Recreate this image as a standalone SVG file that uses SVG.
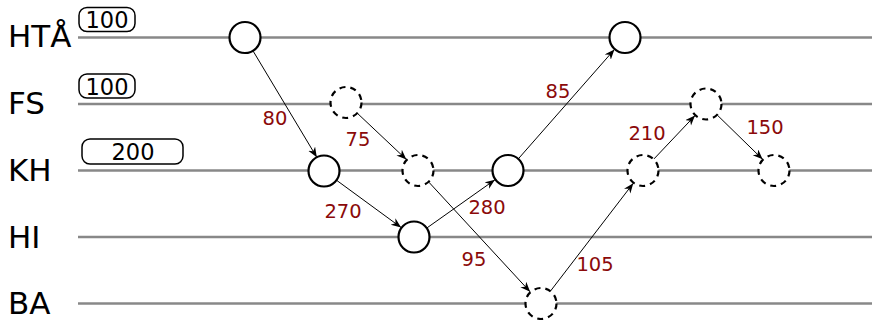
<svg xmlns="http://www.w3.org/2000/svg" width="872" height="320" viewBox="0 0 872 320">
<defs>
<marker id="arr" markerUnits="userSpaceOnUse" markerWidth="11" markerHeight="9" refX="10" refY="4" orient="auto">
<path d="M0,0 L10,4 L0,8 L3,4 z" fill="#000"/>
</marker>
<style>
.lane{stroke:#888;stroke-width:2.5;fill:none}
.rowlbl{font-family:"DejaVu Sans",sans-serif;font-size:31px;fill:#000}
.cap rect{fill:#fff;stroke:#000;stroke-width:1.5}
.cap text{font-family:"DejaVu Sans",sans-serif;font-size:22.5px;fill:#000;text-anchor:middle}
.solid{fill:#fff;stroke:#000;stroke-width:2.2}
.dash{fill:#fff;stroke:#000;stroke-width:2.2;stroke-dasharray:6,5}
.edge{stroke:#000;stroke-width:1;fill:none;marker-end:url(#arr)}
.elbl{font-family:"DejaVu Sans",sans-serif;font-size:19.5px;fill:#8b0a0a;text-anchor:middle}
</style>
</defs>
<g id="lanes">
<line class="lane" x1="78" y1="37.5" x2="872" y2="37.5"/>
<line class="lane" x1="78" y1="104" x2="872" y2="104"/>
<line class="lane" x1="78" y1="170.5" x2="872" y2="170.5"/>
<line class="lane" x1="78" y1="237" x2="872" y2="237"/>
<line class="lane" x1="78" y1="303.5" x2="872" y2="303.5"/>
<text class="rowlbl" x="8" y="47">HTÅ</text>
<text class="rowlbl" x="8" y="114">FS</text>
<text class="rowlbl" x="8" y="181">KH</text>
<text class="rowlbl" x="8" y="248">HI</text>
<text class="rowlbl" x="8" y="314">BA</text>
</g>
<g id="cap-hta" class="cap"><rect x="79" y="7.5" width="56" height="24" rx="8"/><text x="107" y="28.3">100</text></g>
<g id="cap-fs" class="cap"><rect x="79" y="74" width="56" height="24" rx="8"/><text x="107" y="94.8">100</text></g>
<g id="cap-kh" class="cap"><rect x="82" y="139" width="101" height="25" rx="8"/><text x="133" y="160">200</text></g>
<g id="connectors">
<line class="edge" x1="253.2" y1="51.2" x2="316.8" y2="157.3"/>
<line class="edge" x1="357.6" y1="113.5" x2="406.4" y2="159.5"/>
<line class="edge" x1="336.9" y1="180.5" x2="401.1" y2="227.5"/>
<line class="edge" x1="427.1" y1="227.8" x2="494.9" y2="179.8"/>
<line class="edge" x1="428.9" y1="182.2" x2="530.1" y2="291.8"/>
<line class="edge" x1="518.6" y1="158.5" x2="614.4" y2="49.5"/>
<line class="edge" x1="550.7" y1="290.8" x2="633.3" y2="183.2"/>
<line class="edge" x1="654" y1="158.9" x2="695" y2="115.6"/>
<line class="edge" x1="717.4" y1="115.2" x2="762.6" y2="159.3"/>
<text class="elbl" x="275" y="125">80</text>
<text class="elbl" x="358" y="146">75</text>
<text class="elbl" x="343" y="218">270</text>
<text class="elbl" x="487" y="214">280</text>
<text class="elbl" x="474" y="266">95</text>
<text class="elbl" x="558" y="98">85</text>
<text class="elbl" x="595" y="271">105</text>
<text class="elbl" x="647" y="140">210</text>
<text class="elbl" x="765" y="134">150</text>
</g>
<g id="n1"><circle class="solid" cx="245" cy="37.5" r="15.5"/></g>
<g id="n2"><circle class="solid" cx="625" cy="37.5" r="15.5"/></g>
<g id="n3"><circle class="dash" cx="346" cy="102.5" r="15.5"/></g>
<g id="n4"><circle class="dash" cx="706" cy="104" r="15.5"/></g>
<g id="n5"><circle class="solid" cx="324" cy="171" r="15.5"/></g>
<g id="n6"><circle class="dash" cx="418" cy="170.5" r="15.5"/></g>
<g id="n7"><circle class="solid" cx="508" cy="170.5" r="15.5"/></g>
<g id="n8"><circle class="dash" cx="643" cy="170.5" r="15.5"/></g>
<g id="n9"><circle class="dash" cx="774" cy="170.5" r="15.5"/></g>
<g id="n10"><circle class="solid" cx="414" cy="237" r="15.5"/></g>
<g id="n11"><circle class="dash" cx="541" cy="303.5" r="15.5"/></g>
</svg>
